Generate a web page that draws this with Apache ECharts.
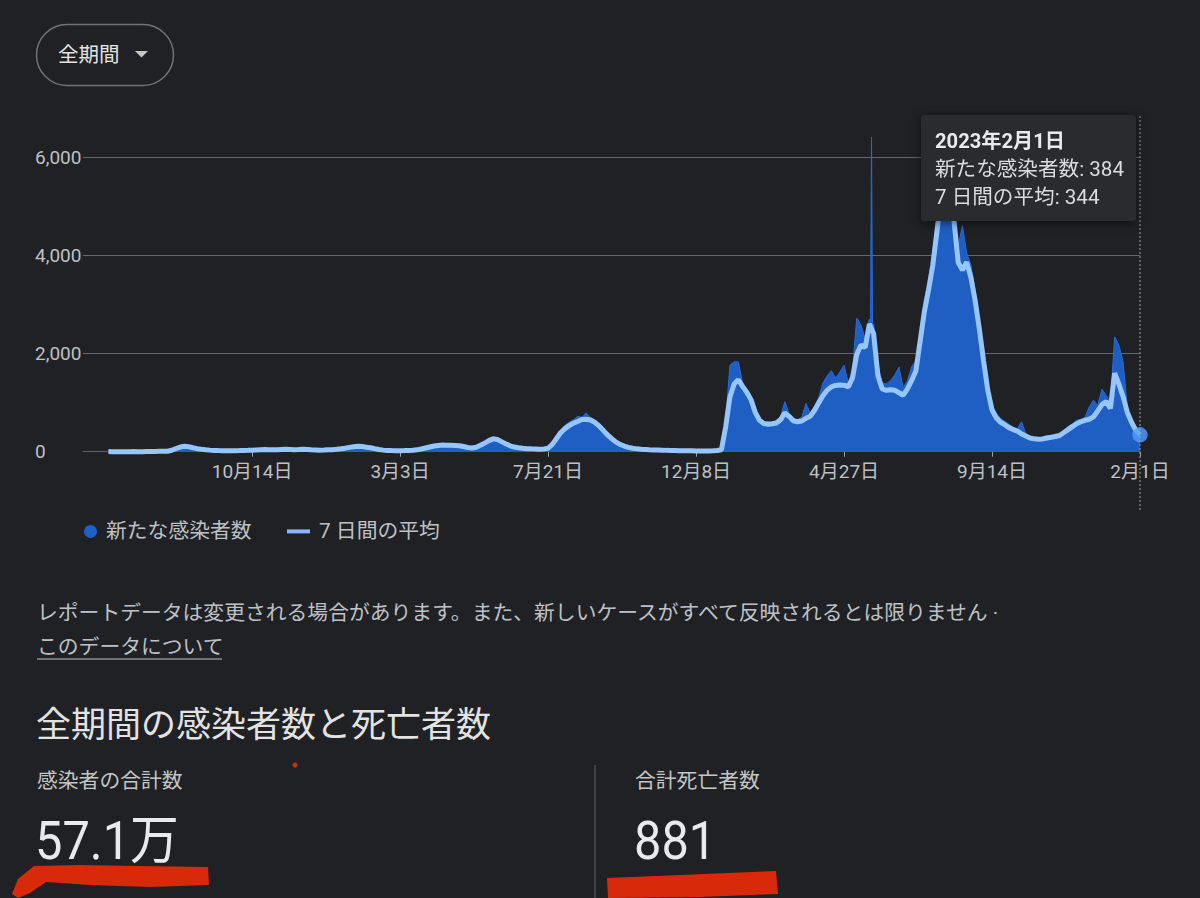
<!DOCTYPE html>
<html><head><meta charset="utf-8">
<script src="https://cdn.jsdelivr.net/npm/echarts@6/dist/echarts.min.js"></script>
<style>html,body{margin:0;padding:0;background:#202124;}#c{width:1200px;height:898px;}</style>
</head><body><div id="c"></div>
<script>
// ---- data ----
const seriesNames = ['新たな感染者数', '7 日間の平均'];
const firstDay = [2020, 5, 31];
const stepDays = 4;
const axisStart = '2020-05-07';
const axisEnd = '2023-02-01';
const tickDates = ['2020-10-14','2021-03-03','2021-07-21','2021-12-08','2022-04-27','2022-09-14','2023-02-01'];
const yTicks = [0, 2000, 4000, 6000];
const summaryLabels = ['感染者の合計数', '合計死亡者数'];
const summaryValues = ['57.1万', '881'];
// single-day outlier around the 2022-05-23 report
const spikeDates = ['2022-05-22', '2022-05-23', '2022-05-24'];
const spikeValues = [2500, 6400, 2450];

const daily = [
3,1,0,2,1,0,3,1,2,2,
4,6,9,12,14,38,72,108,126,106,
84,60,52,38,34,25,24,20,19,20,
22,24,27,30,35,38,44,48,42,40,
45,50,52,47,44,46,52,48,42,38,
34,36,40,45,54,65,78,95,110,120,
112,96,84,65,48,34,27,24,21,22,
24,28,33,42,60,82,104,125,140,148,
145,142,140,132,112,90,80,98,142,190,
245,285,270,220,172,128,100,85,75,66,
62,58,56,60,78,170,300,430,540,600,
650,720,700,790,700,650,570,470,370,290,
215,160,122,92,74,60,52,47,42,38,
35,32,29,26,24,22,21,19,18,17,
16,16,17,20,28,60,600,1760,1830,1830,
1400,1255,1100,850,680,600,610,590,640,720,
1017,780,680,650,700,985,780,930,1100,1400,
1540,1650,1500,1620,1760,1400,1660,2720,2580,2300,
2700,2600,1800,1400,1380,1450,1560,1725,1300,1450,
1730,1850,2400,3100,3500,4100,4800,5600,5900,5700,
5000,4200,4600,4050,3800,3300,2700,2000,1380,950,
787,680,620,560,500,470,610,360,310,290,
280,300,330,310,360,350,430,520,560,640,
660,700,915,1050,940,1270,1150,1000,2340,2170,
1830,900,680,480,384
];
const avg7 = [
2,1,1,0,1,1,2,1,1,2,
3,5,8,10,10,30,65,95,110,100,
80,62,50,40,32,26,22,20,18,18,
20,22,25,28,32,36,40,44,40,38,
42,46,48,45,42,44,48,45,40,36,
32,34,38,42,50,60,72,88,102,110,
104,92,80,62,45,32,25,22,20,20,
22,25,30,38,55,75,95,115,128,135,
132,130,128,122,105,85,75,90,130,175,
225,262,250,205,160,120,95,80,70,62,
58,55,52,55,70,150,270,390,470,530,
580,615,655,660,645,600,530,440,345,270,
200,150,115,88,70,58,50,45,40,36,
33,30,27,25,23,21,20,18,17,16,
15,15,16,18,25,40,500,1110,1380,1465,
1330,1210,1060,800,640,575,560,570,585,650,
790,720,630,610,625,680,720,840,990,1140,
1250,1320,1350,1360,1355,1320,1500,1980,2170,2120,
2600,2400,1550,1280,1250,1260,1250,1200,1150,1280,
1450,1650,2250,2850,3300,3800,4500,5200,5450,5300,
4700,3850,3700,3860,3550,3080,2500,1850,1250,850,
690,600,550,490,450,420,360,320,280,262,
255,260,280,295,310,330,390,450,510,570,
610,640,660,710,830,960,1020,880,1600,1380,
1120,800,600,440,344
];

// ---- helpers ----
function ts(s){const p=s.split('-').map(Number);return Date.UTC(p[0],p[1]-1,p[2]);}
function ymdUTC(d){return d.getUTCFullYear()+'-'+String(d.getUTCMonth()+1).padStart(2,'0')+'-'+String(d.getUTCDate()).padStart(2,'0');}
const dates = daily.map((_, i) => ymdUTC(new Date(Date.UTC(firstDay[0], firstDay[1]-1, firstDay[2] + stepDays*i))));
const last = dates.length - 1;
const FONT = 'Roboto, "Noto Sans CJK JP", sans-serif';
const tickTs = tickDates.map(ts);

const dailyData = dates.map((d, i) => [ts(d), daily[i]])
  .concat(spikeDates.map((d, i) => [ts(d), spikeValues[i]]))
  .sort((a, b) => a[0] - b[0]);
const avgData = dates.map((d, i) => [ts(d), avg7[i]]);

const chart = echarts.init(document.getElementById('c'), null, {renderer: 'svg'});
chart.setOption({
  backgroundColor: '#202124',
  animation: false,
  textStyle: {fontFamily: FONT},
  grid: {left: 83, right: 60, top: 157, bottom: 446.3},
  legend: [
    {data: [seriesNames[0]], left: 84, top: 521, padding: 0, icon: 'circle', itemWidth: 13, itemHeight: 13,
     selectedMode: false, textStyle: {color: '#bdc1c6', fontSize: 20.8, fontFamily: FONT, padding: [0,0,0,4]}},
    {data: [seriesNames[1]], left: 287, top: 521, padding: 0, icon: 'rect', itemWidth: 23, itemHeight: 4,
     selectedMode: false, textStyle: {color: '#bdc1c6', fontSize: 20.8, fontFamily: FONT, padding: [0,0,0,4]}}
  ],
  tooltip: {
    trigger: 'axis', triggerOn: 'none', alwaysShowContent: true, transitionDuration: 0,
    axisPointer: {type: 'none'},
    position: [921, 115],
    backgroundColor: '#2a2b2e', borderWidth: 0, borderRadius: 3, padding: [12, 12, 10, 14],
    extraCssText: 'box-shadow:0 2px 10px rgba(0,0,0,0.55);line-height:28px;',
    textStyle: {color: '#dadce0', fontSize: 20.6, fontFamily: FONT},
    formatter: function (params) {
      const d = new Date(params[0].axisValue);
      const dv = params.find(p => p.seriesIndex === 0).value[1];
      const av = params.find(p => p.seriesIndex === 1).value[1];
      return '<div style="font-weight:bold;color:#e8eaed;line-height:28px;font-size:20.2px">' + d.getUTCFullYear() + '年' + (d.getUTCMonth()+1) + '月' + d.getUTCDate() + '日</div>' +
        '<div style="line-height:28px">' + seriesNames[0] + ': ' + dv.toLocaleString('en-US') + '</div>' +
        '<div style="line-height:28px">' + seriesNames[1] + ': ' + av.toLocaleString('en-US') + '</div>';
    }
  },
  xAxis: {
    type: 'value', min: ts(axisStart), max: ts(axisEnd),
    axisLine: {show: true, lineStyle: {color: '#5f6368', width: 1}},
    axisTick: {show: true, customValues: tickTs, length: 5, lineStyle: {color: '#9aa0a6'}},
    axisLabel: {customValues: tickTs, color: '#bdc1c6', fontSize: 19, margin: 10, fontFamily: FONT,
      showMinLabel: true, showMaxLabel: true,
      formatter: function (v) { const d = new Date(v); return (d.getUTCMonth()+1) + '月' + d.getUTCDate() + '日'; }},
    splitLine: {show: false}
  },
  yAxis: {
    type: 'value', min: yTicks[0], max: yTicks[yTicks.length-1], interval: yTicks[1]-yTicks[0],
    axisLine: {show: false}, axisTick: {show: false},
    axisLabel: {align: 'left', margin: 48, color: '#bdc1c6', fontSize: 19, fontFamily: FONT,
      formatter: v => v.toLocaleString('en-US')},
    splitLine: {lineStyle: {color: '#64676b', width: 1}}
  },
  series: [
    {name: seriesNames[0], type: 'line', data: dailyData,
     symbol: 'none', clip: false, z: 2,
     itemStyle: {color: '#1e5fc8'}, lineStyle: {color: '#2461c2', width: 1},
     areaStyle: {color: '#1d56b1', opacity: 1}},
    {name: seriesNames[1], type: 'line', data: avgData,
     symbol: 'none', clip: false, z: 3,
     itemStyle: {color: '#8ab4f8'}, lineStyle: {color: '#8ab4f8', width: 5}},
    {name: 'last', type: 'scatter', data: [avgData[last]], symbolSize: 14, z: 4, silent: true,
     itemStyle: {color: '#4d8ef7'}}
  ]
});

const px = chart.convertToPixel({xAxisIndex: 0}, avgData[last][0]);
chart.setOption({
  graphic: [
    {type: 'rect', shape: {x: 36.5, y: 24.5, width: 137, height: 61, r: 30.5},
     style: {fill: 'none', stroke: '#707377', lineWidth: 1.5}},
    {type: 'text', x: 58, y: 55, style: {text: '全期間', fontSize: 20.5, fontFamily: FONT, fill: '#e3e3e3', verticalAlign: 'middle'}},
    {type: 'polygon', shape: {points: [[135, 51], [148, 51], [141.5, 57.5]]}, style: {fill: '#c4c7c5'}},
    {type: 'line', shape: {x1: px, y1: 116, x2: px, y2: 510}, z: 10,
     style: {stroke: '#9aa0a6', lineWidth: 1, lineDash: [2, 2]}},
    {type: 'text', x: 37, y: 613, style: {text: 'レポートデータは変更される場合があります。また、新しいケースがすべて反映されるとは限りません ·',
      fontSize: 20.8, fontFamily: FONT, fill: '#bdc1c6', verticalAlign: 'middle'}},
    {type: 'text', x: 37, y: 647, style: {text: 'このデータについて', fontSize: 20.8, fontFamily: FONT, fill: '#bdc1c6', verticalAlign: 'middle'}},
    {type: 'line', shape: {x1: 37, y1: 659, x2: 222, y2: 659}, style: {stroke: '#bdc1c6', lineWidth: 1.2}},
    {type: 'text', x: 36, y: 725, style: {text: '全期間の感染者数と死亡者数', fontSize: 35, fontFamily: FONT, fill: '#e3e3e3', verticalAlign: 'middle'}},
    {type: 'text', x: 37, y: 781, style: {text: summaryLabels[0], fontSize: 20.8, fontFamily: FONT, fill: '#c4c7c5', verticalAlign: 'middle'}},
    {type: 'text', x: 635, y: 781, style: {text: summaryLabels[1], fontSize: 20.8, fontFamily: FONT, fill: '#c4c7c5', verticalAlign: 'middle'}},
    {type: 'text', x: 35, y: 841, scaleX: 0.92, style: {text: summaryValues[0], fontSize: 53, fontFamily: FONT, fill: '#e8eaed', verticalAlign: 'middle'}},
    {type: 'text', x: 634, y: 841, scaleX: 0.92, style: {text: summaryValues[1], fontSize: 53, fontFamily: FONT, fill: '#e8eaed', verticalAlign: 'middle'}},
    {type: 'line', shape: {x1: 595, y1: 765, x2: 595, y2: 898}, style: {stroke: '#5f6368', lineWidth: 1}},
    {type: 'polygon', shape: {points: [[12,894],[18,879],[34,866],[80,865],[140,866],[208,867],[209,885],[150,887],[90,885],[46,882],[30,893],[18,898]]},
     style: {fill: '#d8290b'}},
    {type: 'polygon', shape: {points: [[607,878],[680,875],[776,871],[778,894],[700,897],[608,898]]}, style: {fill: '#d8290b'}},
    {type: 'circle', shape: {cx: 295, cy: 765, r: 2.5}, style: {fill: '#c8320f'}}
  ]
});
chart.dispatchAction({type: 'showTip', seriesIndex: 1, dataIndex: last});
</script></body></html>
